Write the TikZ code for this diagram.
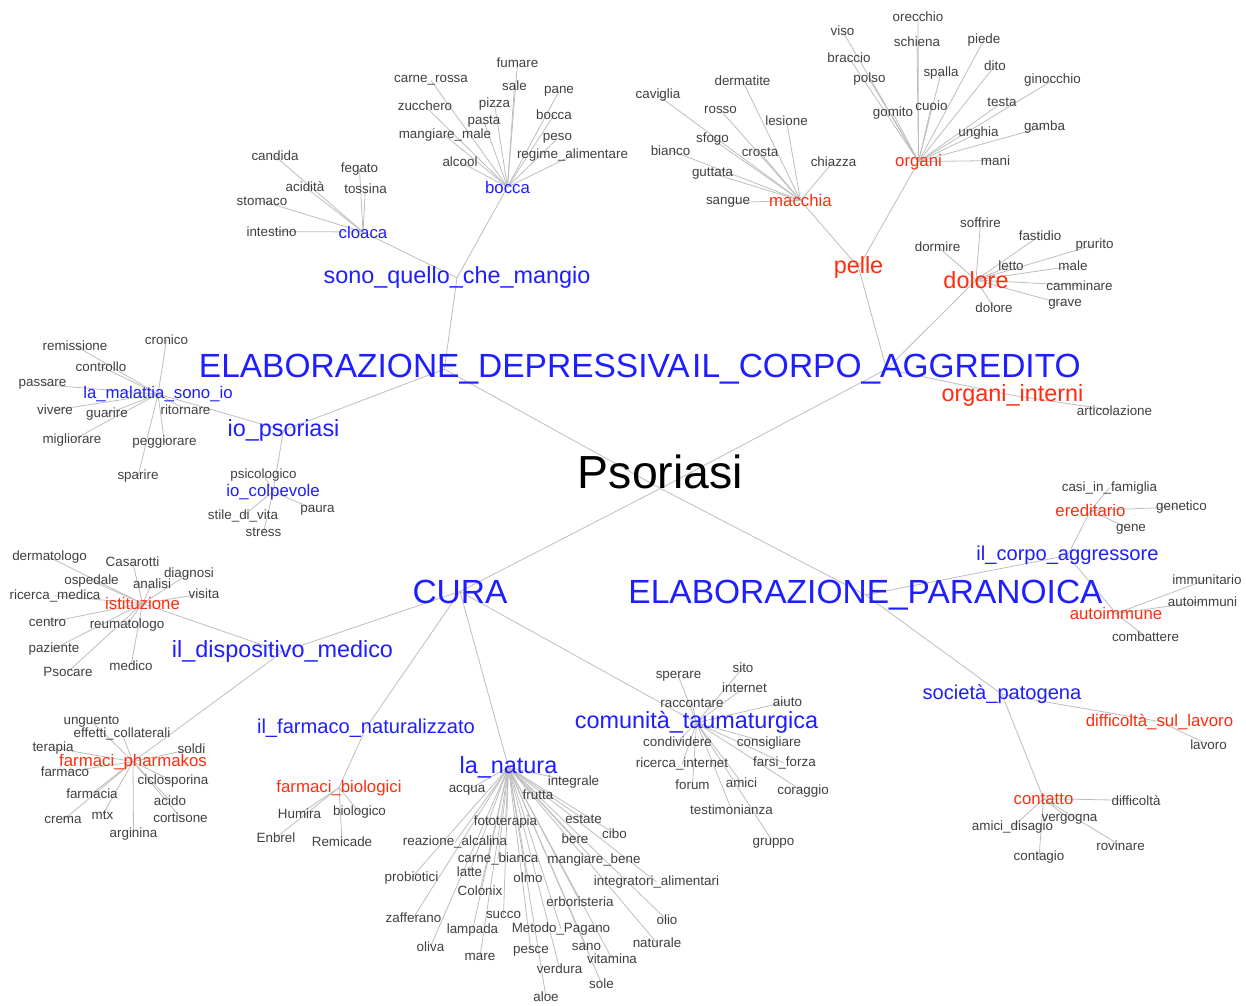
\documentclass[tikz,border=0pt]{standalone}
\usepackage{fontspec}
\setmainfont{Liberation Sans}
\pgfdeclarelayer{background}
\pgfsetlayers{background,main}
\definecolor{tblue}{RGB}{30,30,255}
\definecolor{tred}{RGB}{255,45,15}
\definecolor{tgray}{RGB}{64,64,64}
\definecolor{tedge}{RGB}{190,190,190}
\tikzset{
  lf/.style={text=tgray, font=\fontsize{13.4}{14}\selectfont, inner sep=0pt, anchor=base, yshift=-4.8pt},
  midb/.style={text=tblue, font=\fontsize{16.8}{18}\selectfont, inner sep=0pt, anchor=base, yshift=-6pt},
  midr/.style={text=tred, font=\fontsize{16.8}{18}\selectfont, inner sep=0pt, anchor=base, yshift=-6pt},
  medb/.style={text=tblue, font=\fontsize{20.1}{22}\selectfont, inner sep=0pt, anchor=base, yshift=-7.2pt},
  bigb/.style={text=tblue, font=\fontsize{23.4}{25}\selectfont, inner sep=0pt, anchor=base, yshift=-8.4pt},
  bigr/.style={text=tred, font=\fontsize{23.4}{25}\selectfont, inner sep=0pt, anchor=base, yshift=-8.4pt},
  topb/.style={text=tblue, font=\fontsize{33.5}{36}\selectfont, inner sep=0pt},
  rootnode/.style={text=black, font=\fontsize{46.4}{50}\selectfont, inner sep=0pt, anchor=base},
  conn/.style={draw=tedge, line width=0.8pt},
}
\newcommand\lfn[3]{\node[lf] (#1) at (#2) {#3};}
\begin{document}
\begin{tikzpicture}[x=1pt,y=-1pt]
\useasboundingbox (0,0) rectangle (1246,1005);
% ---- main nodes
\node[rootnode] (ps) at (660.5,488) {Psoriasi};
\node[topb, anchor=base east] (edep) at (690,377.5) {ELABORAZIONE\_DEPRESSIVA};
\node[topb, anchor=base west] (corpo) at (692,377.5) {IL\_CORPO\_AGGREDITO};
\node[topb, anchor=base] (cura) at (460,603) {CURA};
\node[topb, anchor=base] (epar) at (865.5,603.3) {ELABORAZIONE\_PARANOICA};
% ---- sono quello che mangio
\node[bigb] (sono) at (457,275.5) {sono\_quello\_che\_mangio};
\node[midb] (cloaca) at (363,232) {cloaca};
\lfn{candida}{275,156}{candida}
\lfn{fegato}{359.5,168}{fegato}
\lfn{acidita}{305,187}{acidità}
\lfn{tossina}{365.5,188.5}{tossina}
\lfn{stomaco}{262,200.5}{stomaco}
\lfn{intestino}{271.5,231.5}{intestino}
\node[midb] (bocca) at (507.5,187) {bocca};
\lfn{fumare}{517.5,63}{fumare}
\lfn{carnerossa}{431,78}{carne\_rossa}
\lfn{sale}{514.5,85.5}{sale}
\lfn{pane}{559,88.5}{pane}
\lfn{zucchero}{425,106}{zucchero}
\lfn{pizza}{494.5,102.5}{pizza}
\lfn{pasta}{484,120}{pasta}
\lfn{boccab}{554,115}{bocca}
\lfn{mangiaremale}{445,134}{mangiare\_male}
\lfn{peso}{557.5,136}{peso}
\lfn{regime}{572.5,154}{regime\_alimentare}
\lfn{alcool}{460,162}{alcool}
% ---- pelle
\node[bigr] (pelle) at (858.5,265) {pelle};
\node[midr] (macchia) at (800.5,200.5) {macchia};
\lfn{caviglia}{658,94}{caviglia}
\lfn{dermatite}{742.5,80.5}{dermatite}
\lfn{rosso}{720.5,109}{rosso}
\lfn{lesione}{786.5,121}{lesione}
\lfn{sfogo}{712.5,138}{sfogo}
\lfn{bianco}{670.5,150.5}{bianco}
\lfn{crosta}{760,152}{crosta}
\lfn{chiazza}{833.5,161.5}{chiazza}
\lfn{guttata}{712.5,171.5}{guttata}
\lfn{sangue}{728,200}{sangue}
\node[midr] (organi) at (918.5,160) {organi};
\lfn{orecchio}{918,17}{orecchio}
\lfn{viso}{842.5,31}{viso}
\lfn{schiena}{917,42}{schiena}
\lfn{piede}{984,38.5}{piede}
\lfn{braccio}{849,58}{braccio}
\lfn{spalla}{941,71.5}{spalla}
\lfn{dito}{995,65.5}{dito}
\lfn{polso}{869.5,78}{polso}
\lfn{ginocchio}{1052.5,79}{ginocchio}
\lfn{gomito}{893,112}{gomito}
\lfn{cuoio}{931.5,105.5}{cuoio}
\lfn{testa}{1002,102}{testa}
\lfn{unghia}{978.5,131.5}{unghia}
\lfn{gamba}{1044.5,125.5}{gamba}
\lfn{mani}{995.5,160.5}{mani}
% ---- dolore
\node[bigr] (dolore) at (976,280) {dolore};
\lfn{soffrire}{980.5,223}{soffrire}
\lfn{fastidio}{1040,235.5}{fastidio}
\lfn{dormire}{937.5,246.5}{dormire}
\lfn{prurito}{1094.5,243.5}{prurito}
\lfn{letto}{1011,265.5}{letto}
\lfn{male}{1073,266}{male}
\lfn{camminare}{1079.5,285.5}{camminare}
\lfn{grave}{1065,302}{grave}
\lfn{doloreb}{994,307.5}{dolore}
\node[bigr] (orgint) at (1012.5,393) {organi\_interni};
\lfn{articolazione}{1114.5,410.5}{articolazione}
% ---- io psoriasi
\node[bigb] (iops) at (283.5,428) {io\_psoriasi};
\node[midb] (malattia) at (158,392.5) {la\_malattia\_sono\_io};
\lfn{remissione}{75,345.5}{remissione}
\lfn{cronico}{166.5,340}{cronico}
\lfn{controllo}{101,366.5}{controllo}
\lfn{passare}{42.5,382}{passare}
\lfn{vivere}{55,410}{vivere}
\lfn{guarire}{107,412.5}{guarire}
\lfn{ritornare}{185.5,409.5}{ritornare}
\lfn{migliorare}{72,439}{migliorare}
\lfn{peggiorare}{164.5,441}{peggiorare}
\lfn{sparire}{138,475}{sparire}
\node[midb] (colpa) at (273,490) {io\_colpevole};
\lfn{psicologico}{263.5,473.5}{psicologico}
\lfn{paura}{317.5,508}{paura}
\lfn{stilevita}{243,514.5}{stile\_di\_vita}
\lfn{stress}{263.5,532}{stress}
% ---- paranoica
\node[medb] (aggr) at (1067.5,553.5) {il\_corpo\_aggressore};
\node[midr] (ered) at (1090.5,510.5) {ereditario};
\lfn{casi}{1109.5,486.5}{casi\_in\_famiglia}
\lfn{genetico}{1181.5,505.5}{genetico}
\lfn{gene}{1131,527}{gene}
\node[midr] (autoim) at (1116,613.5) {autoimmune};
\lfn{immunitario}{1207,579.5}{immunitario}
\lfn{autoimmuni}{1202.5,601.5}{autoimmuni}
\lfn{combattere}{1145.5,636.5}{combattere}
\node[medb] (soc) at (1002,692.5) {società\_patogena};
\node[midr] (diffl) at (1159.5,720) {difficoltà\_sul\_lavoro};
\lfn{lavoro}{1208.5,744.5}{lavoro}
\node[midr] (contatto) at (1043.5,798) {contatto};
\lfn{difficolta}{1136,800.5}{difficoltà}
\lfn{vergogna}{1069.5,816.5}{vergogna}
\lfn{amicid}{1012.5,826}{amici\_disagio}
\lfn{rovinare}{1120.5,845.5}{rovinare}
\lfn{contagio}{1039,856}{contagio}
% ---- cura: dispositivo medico
\node[bigb] (disp) at (282.5,649.5) {il\_dispositivo\_medico};
\node[midr] (istit) at (142.5,603.5) {istituzione};
\lfn{dermatologo}{49.5,556}{dermatologo}
\lfn{casarotti}{132.5,561.5}{Casarotti}
\lfn{diagnosi}{189,572.5}{diagnosi}
\lfn{ospedale}{91.5,579.5}{ospedale}
\lfn{analisi}{152,583.5}{analisi}
\lfn{ricercamed}{55,594.5}{ricerca\_medica}
\lfn{visita}{204,593.5}{visita}
\lfn{centro}{47.5,622}{centro}
\lfn{reumatologo}{127,623.5}{reumatologo}
\lfn{paziente}{54,647.5}{paziente}
\lfn{medico}{131,665.5}{medico}
\lfn{psocare}{68,671.5}{Psocare}
\node[midr] (pharm) at (133,760) {farmaci\_pharmakos};
\lfn{unguento}{91.5,719.5}{unguento}
\lfn{effetti}{122,732.5}{effetti\_collaterali}
\lfn{terapia}{53,746.5}{terapia}
\lfn{soldi}{191.5,749}{soldi}
\lfn{farmaco}{65,772}{farmaco}
\lfn{ciclosporina}{173,780}{ciclosporina}
\lfn{farmacia}{92,793.5}{farmacia}
\lfn{acido}{170,800.5}{acido}
\lfn{crema}{63,819}{crema}
\lfn{mtx}{102.5,814.5}{mtx}
\lfn{cortisone}{180.5,817.5}{cortisone}
\lfn{arginina}{133.5,832.5}{arginina}
% ---- farmaco naturalizzato
\node[medb] (farmnat) at (366,726) {il\_farmaco\_naturalizzato};
\node[midr] (biol) at (339,786) {farmaci\_biologici};
\lfn{humira}{299.5,814}{Humira}
\lfn{biologico}{359.5,811}{biologico}
\lfn{enbrel}{276,837.5}{Enbrel}
\lfn{remicade}{342,841.5}{Remicade}
% ---- la natura
\node[bigb] (natura) at (508.5,765) {la\_natura};
\lfn{integrale}{573.5,780.5}{integrale}
\lfn{acqua}{467,788}{acqua}
\lfn{frutta}{538,794.5}{frutta}
\lfn{fototerapia}{505.5,821}{fototerapia}
\lfn{estate}{583.5,818.5}{estate}
\lfn{cibo}{614.5,833.5}{cibo}
\lfn{reazione}{455,841}{reazione\_alcalina}
\lfn{bere}{575,838.5}{bere}
\lfn{carneb}{498,857.5}{carne\_bianca}
\lfn{mangiarebene}{594,859}{mangiare\_bene}
\lfn{latte}{469.5,872}{latte}
\lfn{probiotici}{411.5,876.5}{probiotici}
\lfn{olmo}{528,878}{olmo}
\lfn{integratori}{656.5,880.5}{integratori\_alimentari}
\lfn{colonix}{480,890.5}{Colonix}
\lfn{erboristeria}{580,901.5}{erboristeria}
\lfn{zafferano}{413.5,917.5}{zafferano}
\lfn{succo}{503.5,914}{succo}
\lfn{olio}{667,920}{olio}
\lfn{lampada}{472.5,929}{lampada}
\lfn{metodo}{561,927.5}{Metodo\_Pagano}
\lfn{oliva}{430.5,946.5}{oliva}
\lfn{naturale}{657,943}{naturale}
\lfn{sano}{586.5,946}{sano}
\lfn{pesce}{531,948.5}{pesce}
\lfn{mare}{480,955.5}{mare}
\lfn{vitamina}{612,958.5}{vitamina}
\lfn{verdura}{559.5,968.5}{verdura}
\lfn{sole}{601.5,983.5}{sole}
\lfn{aloe}{546,997}{aloe}
% ---- comunita
\node[bigb] (comun) at (696.5,720.5) {comunità\_taumaturgica};
\lfn{sperare}{678.5,674}{sperare}
\lfn{sito}{743,667.5}{sito}
\lfn{internet}{744.5,687.5}{internet}
\lfn{raccontare}{692,702.5}{raccontare}
\lfn{aiuto}{787.5,701.5}{aiuto}
\lfn{condividere}{677.5,741.5}{condividere}
\lfn{consigliare}{769,741.5}{consigliare}
\lfn{ricint}{682,763}{ricerca\_internet}
\lfn{farsi}{784.5,762}{farsi\_forza}
\lfn{forum}{692.5,784.5}{forum}
\lfn{amici}{741.5,782.5}{amici}
\lfn{coraggio}{803,790}{coraggio}
\lfn{testimonianza}{731.5,809.5}{testimonianza}
\lfn{gruppo}{773.5,840.5}{gruppo}
% ---- connectors
\begin{pgfonlayer}{background}
\fill[white] (0,0) rectangle (1246,1005);
\foreach \b in {edep,corpo,cura,epar} \draw[conn] ([yshift=-17pt]ps.center) -- (\b.center);
\foreach \b in {sono,iops} \draw[conn] (edep.center) -- (\b.center);
\foreach \b in {cloaca,bocca} \draw[conn] (sono.center) -- (\b.center);
\foreach \b in {candida,fegato,acidita,tossina,stomaco,intestino} \draw[conn] (cloaca.center) -- (\b.center);
\foreach \b in {fumare,carnerossa,sale,pane,zucchero,pizza,pasta,boccab,mangiaremale,peso,regime,alcool} \draw[conn] (bocca.center) -- (\b.center);
\foreach \b in {malattia,colpa} \draw[conn] (iops.center) -- (\b.center);
\foreach \b in {remissione,cronico,controllo,passare,vivere,guarire,ritornare,migliorare,peggiorare,sparire} \draw[conn] (malattia.center) -- (\b.center);
\foreach \b in {psicologico,paura,stilevita,stress} \draw[conn] (colpa.center) -- (\b.center);
\foreach \b in {pelle,dolore,orgint} \draw[conn] (corpo.center) -- (\b.center);
\foreach \b in {macchia,organi} \draw[conn] (pelle.center) -- (\b.center);
\foreach \b in {caviglia,dermatite,rosso,lesione,sfogo,bianco,crosta,chiazza,guttata,sangue} \draw[conn] (macchia.center) -- (\b.center);
\foreach \b in {orecchio,viso,schiena,piede,braccio,spalla,dito,polso,ginocchio,gomito,cuoio,testa,unghia,gamba,mani} \draw[conn] (organi.center) -- (\b.center);
\foreach \b in {soffrire,fastidio,dormire,prurito,letto,male,camminare,grave,doloreb} \draw[conn] (dolore.center) -- (\b.center);
\draw[conn] (orgint.center) -- (articolazione.center);
\foreach \b in {aggr,soc} \draw[conn] (epar.center) -- (\b.center);
\foreach \b in {ered,autoim} \draw[conn] (aggr.center) -- (\b.center);
\foreach \b in {casi,genetico,gene} \draw[conn] (ered.center) -- (\b.center);
\foreach \b in {immunitario,autoimmuni,combattere} \draw[conn] (autoim.center) -- (\b.center);
\foreach \b in {diffl,contatto} \draw[conn] (soc.center) -- (\b.center);
\draw[conn] (diffl.center) -- (lavoro.center);
\foreach \b in {difficolta,vergogna,amicid,rovinare,contagio} \draw[conn] (contatto.center) -- (\b.center);
\foreach \b in {disp,farmnat,natura,comun} \draw[conn] (cura.center) -- (\b.center);
\foreach \b in {istit,pharm} \draw[conn] (disp.center) -- (\b.center);
\foreach \b in {dermatologo,casarotti,diagnosi,ospedale,analisi,ricercamed,visita,centro,reumatologo,paziente,medico,psocare} \draw[conn] (istit.center) -- (\b.center);
\foreach \b in {unguento,effetti,terapia,soldi,farmaco,ciclosporina,farmacia,acido,crema,mtx,cortisone,arginina} \draw[conn] (pharm.center) -- (\b.center);
\draw[conn] (farmnat.center) -- (biol.center);
\foreach \b in {humira,biologico,enbrel,remicade} \draw[conn] (biol.center) -- (\b.center);
\foreach \b in {integrale,acqua,frutta,fototerapia,estate,cibo,reazione,bere,carneb,mangiarebene,latte,probiotici,olmo,integratori,colonix,erboristeria,zafferano,succo,olio,lampada,metodo,oliva,naturale,sano,pesce,mare,vitamina,verdura,sole,aloe} \draw[conn] (natura.center) -- (\b.center);
\foreach \b in {sperare,sito,internet,raccontare,aiuto,condividere,consigliare,ricint,farsi,forum,amici,coraggio,testimonianza,gruppo} \draw[conn] (comun.center) -- (\b.center);
\end{pgfonlayer}
\end{tikzpicture}
\end{document}
